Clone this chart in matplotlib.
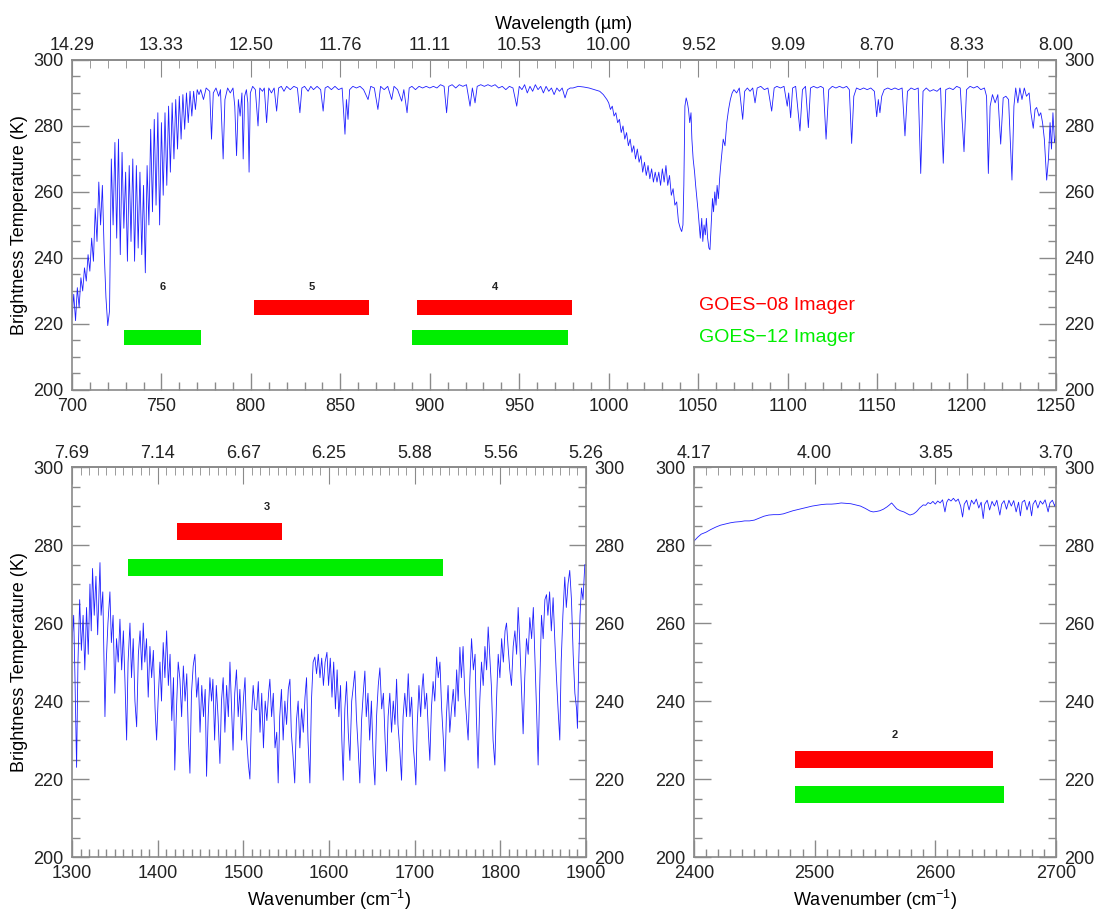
import matplotlib
matplotlib.use("Agg")
import matplotlib.pyplot as plt
from matplotlib.ticker import MultipleLocator, FuncFormatter, FixedLocator

plt.rcParams['font.family'] = ['Liberation Sans', 'DejaVu Sans']
plt.rcParams['mathtext.fontset'] = 'custom'
plt.rcParams['mathtext.rm'] = 'Liberation Sans'

# ---------------- data ----------------
WN_TOP = [700, 701, 702, 703, 704, 705, 706, 707, 708, 709, 710, 711, 712, 713, 714, 715, 716, 717, 718, 719,
          720, 721, 722, 723, 724, 725, 726, 727, 728, 729, 730, 731, 732, 733, 734, 735, 736, 737, 738, 739,
          740, 741, 742, 743, 744, 745, 746, 747, 748, 749, 750, 751, 752, 753, 754, 755, 756, 757, 758, 759,
          760, 761, 762, 763, 764, 765, 766, 767, 768, 769, 770,
          771, 772, 773.5, 775, 777, 778, 779, 780.5, 782, 783, 784.5, 785.5, 787, 788.5, 790, 791, 792, 793, 794, 795,
          795.7, 796.5, 797.5, 798.3, 799, 799.7, 801, 802.5, 804, 805, 806.5, 807.5, 808.8, 810, 811.5, 813, 814.4, 815.5,
          817, 818.5, 820, 822, 824, 826, 827.4, 828.5, 830, 832, 833.5, 835, 837, 839, 840.4, 841.5, 843, 845, 847, 849,
          851, 852.6, 853.4, 854.3, 855.2, 857, 859, 861, 863, 865.5, 867, 869, 871, 872.5, 874.5, 876.5, 878.7, 880, 882,
          884.3, 885.5, 887.3, 888.5, 890, 892, 894, 896, 898, 900, 902, 904, 906, 908, 909.4, 910.6, 912.5, 914.5, 916.5,
          918.5, 920.5, 922.5, 923.8, 925.3, 926.5, 928.5, 930.5, 932.5, 934.5, 936.5, 938.5, 940.5, 942.5, 944.5, 946.5,
          948.6, 950, 951.5, 953, 954.5, 956, 957.5, 959, 960.5, 962, 963.5, 965, 966.5, 968, 969.5, 971, 972.5, 974,
          975.6, 977, 978.5, 980, 983, 986, 989, 992, 995, 997, 999,
          1000, 1001, 1002, 1003, 1004, 1005, 1006, 1007, 1008, 1009, 1010, 1011, 1012, 1013, 1014, 1015, 1016, 1017,
          1018, 1019, 1020, 1021, 1022, 1023, 1024, 1025, 1026, 1027, 1028, 1029, 1030, 1031, 1032, 1033, 1034, 1035,
          1036, 1037, 1038, 1039, 1040, 1040.8, 1041.5, 1042, 1042.6, 1043.3, 1044, 1044.6, 1045.3, 1046, 1046.5, 1047.2,
          1048, 1048.6, 1049.3, 1050, 1050.6, 1051.2, 1052, 1052.6, 1053.3, 1054, 1054.6, 1055.3, 1056, 1056.6, 1057.3,
          1058, 1058.6, 1059.3, 1060, 1060.6, 1061.3, 1062, 1062.6, 1063.3, 1064, 1065, 1066, 1067, 1068, 1069, 1070,
          1071.5, 1073, 1074.9, 1076, 1077.5, 1079, 1080.5, 1081.8, 1083, 1085, 1087, 1089, 1091.1, 1092.5, 1094, 1096,
          1098, 1099.8, 1100.6, 1101.7, 1102.8, 1104.5, 1106.9, 1108.3, 1110, 1111.6, 1112.8, 1114.5, 1116.5, 1118.5,
          1120, 1121.5, 1123, 1125, 1127, 1129, 1131, 1133, 1134.5, 1135.8, 1137, 1138.5, 1140.5, 1142.5, 1144.5, 1146.5,
          1148.5, 1149.8, 1150.7, 1151.6, 1152.6, 1154, 1156, 1158, 1160, 1162, 1164, 1165.6, 1167, 1169, 1171, 1173,
          1174.4, 1175.7, 1177.5, 1179.5, 1181.5, 1183.5, 1185.5, 1187, 1188.4, 1190.5, 1192.5, 1194.5, 1196.5, 1198.6,
          1200, 1202, 1204, 1206, 1208, 1210, 1211.2, 1212.2, 1213.2, 1214.5, 1216, 1217.5, 1219.1, 1220.5, 1222, 1223.5,
          1225.4, 1226.5, 1227.5, 1228.7, 1229.8, 1231, 1232.3, 1233.5, 1235, 1236, 1237.3, 1238.3, 1239.2, 1240.5,
          1241.5, 1242.5, 1243.5, 1244.8, 1245.8, 1246.7, 1247.5, 1248.3, 1249.2, 1250]
BT_TOP = [222, 229, 221, 231, 225, 234, 230, 237, 233, 241, 236, 246, 239, 255, 245, 263, 250, 262, 242, 228,
          219.5, 224, 270, 250, 275, 246, 276, 241, 272, 249, 266, 239, 268, 245, 270, 239, 268, 243, 266, 241,
          262, 235.5, 268, 250, 279, 254, 282, 256, 284, 250, 281, 259, 284, 262, 286, 266, 287, 270, 288, 273,
          289, 276, 289.5, 279, 290, 281, 290.5, 283, 290.5, 285, 291,
          289.5, 291, 288, 291.5, 290.5, 276, 290, 291.5, 289, 291, 270, 288, 291.5, 290, 291.5, 286, 271, 288, 283, 290,
          270, 289, 291, 287, 266, 290, 292, 291, 280, 291.5, 290.5, 291.5, 281, 291.5, 290, 291.5, 284.5, 291.5,
          292, 290.5, 292, 291, 292, 291.5, 284, 291.5, 292, 290.5, 292, 291, 292, 291, 284.5, 291.5, 292, 291, 292, 291,
          291.5, 277.5, 288, 282, 291, 292, 291.5, 292, 291, 288, 292, 291.5, 285, 292, 291, 292, 288, 292, 291,
          287.5, 291, 284, 291.5, 292, 291, 292, 291.5, 292, 291.5, 292, 291.5, 292.5, 292, 284, 292, 292.5, 291.5, 292.5,
          292, 292.5, 286, 291.5, 287, 292, 292.5, 292, 292.5, 292, 292.5, 291.5, 292, 291, 292, 291.5,
          286, 292, 291, 292.5, 290, 292, 290.5, 292.5, 291, 292, 290, 292, 290.5, 291.5, 289.5, 291.5, 290.5, 291.5,
          288.5, 291, 291.5, 291.5, 292, 291.8, 291.5, 291, 290.5, 289.5, 288,
          287, 285, 286, 283, 284, 281, 282, 278, 280, 276, 278, 274, 276, 272, 274, 270, 273, 269,
          271, 266, 269, 265, 268, 264, 267, 263, 266, 263, 266, 262, 267, 263, 268, 262, 265, 259,
          261, 256, 257, 251, 249, 248, 250, 262, 286, 288.5, 287, 285, 281, 284, 276, 270,
          266, 262, 258, 254, 250, 246, 252, 245, 250, 247, 252, 246, 243, 242.5, 250,
          258, 254, 260, 256, 262, 258, 264, 268, 272, 276, 274, 281, 285, 288, 290, 291,
          290, 291.5, 282, 290.5, 291.5, 290.5, 291.5, 287, 291.5, 292, 291, 291.5, 284.5, 291.5, 292, 291.5,
          292, 286, 290, 282.5, 291.5, 292, 278.5, 291, 292, 279.5, 291.5, 292, 291.5, 292,
          291.5, 276, 291, 292, 291.5, 292, 291.5, 292, 291, 274.7, 289, 291.5, 291, 291.5, 291, 291.5,
          290.5, 282.8, 288, 284, 289, 291, 291.5, 291, 291.5, 291, 291.5, 277, 290.5, 291.5, 291, 291.5,
          265.6, 290.5, 291.5, 290.5, 291, 290.5, 291.5, 268.7, 291, 291.5, 291, 292, 291.5, 272.2,
          291, 292, 291.5, 292, 291, 291.5, 289, 265.6, 286, 289.5, 287, 289.5, 274.5, 288.5, 289, 288,
          263.6, 286, 291.5, 287, 291.5, 288, 291.5, 289, 290, 284, 279.3, 285, 285.6, 283,
          284, 281, 276, 263.6, 270, 281, 273, 284, 275, 277]

WN_MID = [1300, 1302, 1303.5, 1305.4, 1307, 1309, 1311, 1313, 1315, 1317, 1319, 1321, 1322.5, 1324, 1326, 1328, 1330,
          1332.7, 1334, 1336, 1338.5, 1340, 1342, 1344.3, 1346, 1348, 1350, 1352, 1354, 1356, 1358, 1360, 1362, 1363.8,
          1365.5, 1367.7, 1369.5, 1371.5, 1373.5, 1375.5, 1377.5, 1379.5, 1381.5, 1383.2, 1385, 1387, 1389, 1391, 1393,
          1395, 1397, 1398.8, 1400.5, 1402.7, 1404.5, 1406.5, 1408.5, 1410.5, 1412.5, 1414.5, 1416.5, 1418.5, 1420, 1422,
          1424, 1426, 1428, 1430, 1432, 1434, 1436, 1437.7, 1439.5, 1441.5, 1443.5, 1445.5, 1447.5, 1449.5, 1451.5,
          1453.5, 1455.5, 1457.1, 1459, 1461, 1463, 1464.5, 1466.5, 1468.5, 1470.5, 1472.7, 1474.5, 1476.5, 1478.5,
          1480.5, 1482.5, 1484.4, 1486, 1488, 1490, 1492, 1494, 1496, 1498, 1500, 1502, 1504, 1505.8, 1507.7, 1509.5,
          1511.5, 1513.5, 1515.5, 1517.5, 1519.5, 1521.5, 1523.5, 1525.5, 1527.5, 1529.5, 1531, 1533, 1535, 1537, 1539,
          1540.7, 1542.5, 1544.5, 1546.5, 1548.5, 1550.5, 1552.5, 1554.4, 1556, 1558, 1560, 1562, 1564, 1566, 1568,
          1570, 1572, 1573.8, 1575.5, 1577.7, 1579.5, 1581.5, 1583.5, 1585.5, 1587.5, 1589.5, 1591.5, 1593.5, 1595.5,
          1597.6, 1599.5, 1601.5, 1603.5, 1605.5, 1607.5, 1609.5, 1611.5, 1613.5, 1615, 1616.6, 1618.5, 1620.5, 1622.5,
          1624.4, 1626.5, 1628.5, 1630.2, 1632, 1634, 1636, 1638, 1640, 1641.9, 1643.5, 1645.5, 1647.5, 1649.5, 1651.5,
          1653.6, 1655.5, 1657.5, 1659.4, 1661.5, 1663.5, 1665.5, 1667.2, 1669, 1671, 1673, 1675, 1677, 1678.9, 1680.5,
          1682.5, 1684.7, 1686.5, 1688.5, 1690.5, 1692.5, 1694.5, 1696.5, 1698.5, 1700, 1701.4, 1703, 1705, 1707,
          1708.5, 1710, 1712, 1714, 1716, 1717.7, 1719.5, 1721.5, 1723.5, 1725.6, 1727.5, 1729.5, 1731.5, 1733.5,
          1735.3, 1737, 1739, 1741, 1743, 1745, 1747, 1749, 1750.8, 1752.8, 1754.5, 1756.5, 1758.5, 1760.5, 1762.4,
          1764.5, 1766.4, 1768.5, 1770.5, 1772, 1774, 1776, 1778, 1780, 1782, 1784, 1785.8, 1787.5, 1789.5, 1791.5,
          1793.6, 1795.5, 1797.5, 1799.5, 1801.5, 1803.5, 1805.5, 1807.2, 1809, 1811, 1813, 1815, 1817, 1819, 1820.8,
          1822.5, 1824.5, 1826.6, 1828.5, 1830.5, 1832.5, 1834.4, 1836.5, 1838.5, 1840.5, 1842.5, 1844.1, 1846, 1848,
          1850, 1852, 1853.9, 1855.5, 1857.5, 1859.5, 1861.6, 1863.5, 1865.5, 1867.5, 1869.4, 1871, 1873, 1875.2, 1877,
          1879, 1881, 1883, 1885, 1887, 1889, 1890, 1891.5, 1893, 1894.7, 1896.5, 1898.6, 1900]
BT_MID = [255, 262, 246, 223, 250, 266, 253, 262, 248, 264, 252, 270, 258, 274, 262, 272, 257,
          275.5, 262, 268, 236, 250, 260, 268, 255, 262, 242, 256, 250, 261, 248, 258, 244, 230,
          250, 260, 246, 256, 240, 233.4, 252, 258, 248, 260, 250, 256, 241, 254, 246,
          253, 238, 230, 240, 250, 240, 255, 246, 258, 244, 252, 235, 246, 222.3, 238,
          250, 245.6, 236, 249, 240, 247, 230, 221.5, 242, 249, 252, 241, 246, 232, 244,
          236, 243, 220.7, 236, 246, 240, 245.6, 230, 244, 236, 224, 240, 246, 232,
          244, 236, 250, 240, 227.4, 242, 248, 236, 243, 230, 240, 246, 230, 224, 220, 236,
          244, 238, 237.7, 245, 232, 242, 228, 240, 235, 242, 245.6, 236, 242, 228, 232,
          219, 236, 243, 230, 240, 234, 243, 245.6, 232, 226, 219, 235, 240, 228, 238,
          232, 241, 246, 230, 219, 240, 250, 251.3, 247, 252, 246, 251, 244, 250,
          252.5, 244, 251, 241, 250, 238, 248, 236, 244, 230, 219.7, 238, 245, 232,
          224.8, 240, 244, 247.7, 236, 228, 219, 235, 242, 247.7, 236, 242, 230, 240, 226,
          218.5, 236, 244, 248.5, 238, 242, 230, 222, 236, 242, 232, 240, 234, 245.6, 234,
          228, 219.7, 236, 242, 236, 247, 236, 241, 228, 224, 218.5, 234, 244, 236,
          243, 247, 238, 242, 232, 224.8, 238, 245, 240, 251.3, 246, 250, 238, 230,
          222, 236, 244, 232, 238, 243, 236, 248, 240, 253.8, 246, 254, 242, 236, 230,
          246, 256, 248, 252, 236, 222.8, 240, 250, 244, 254, 248, 259, 252, 244, 230,
          223.6, 240, 252, 246, 256, 250, 258, 260, 254, 248, 244, 254, 258, 252, 264,
          256, 244, 231.6, 246, 256, 252, 261.4, 256, 264, 250, 236, 223.6, 244, 262,
          256, 266, 267.3, 262, 268, 258, 266.5, 256, 246, 237.4, 230, 250, 262, 271.8, 264,
          270, 273.5, 266, 252, 242, 238, 233, 250, 262, 269, 266, 275, 275]

WN_SW = [2400, 2403, 2406, 2410, 2414, 2418, 2422, 2426, 2430, 2434, 2438, 2442, 2446, 2450, 2454, 2458, 2462, 2466,
         2470, 2474, 2478, 2482, 2486, 2490, 2494, 2498, 2502, 2506, 2510, 2514, 2518, 2522, 2526, 2530, 2534, 2538,
         2542, 2546, 2548.5, 2551, 2554, 2557, 2560, 2562, 2563.8, 2565.5, 2568, 2571, 2574, 2577, 2579, 2582, 2584.5,
         2587, 2590, 2592, 2594, 2596, 2598, 2600, 2602, 2604, 2606, 2608, 2609.5, 2611, 2613, 2615, 2617, 2619, 2621,
         2622.6, 2624, 2626, 2628, 2630, 2632, 2634, 2636, 2638, 2639.7, 2641, 2643, 2645, 2647, 2649, 2651, 2653.5,
         2655, 2657, 2659, 2661, 2663, 2665, 2667, 2669, 2670.5, 2672, 2674, 2676, 2678, 2679.8, 2681, 2683, 2685,
         2687, 2689, 2691, 2693.5, 2695, 2697, 2699, 2700]
BT_SW = [281, 282, 282.8, 283.3, 284, 284.6, 285.1, 285.4, 285.7, 285.9, 286, 286.2, 286.2, 286.4, 286.9, 287.4, 287.7,
         287.8, 287.8, 288, 288.4, 288.8, 289.1, 289.4, 289.7, 290, 290.2, 290.4, 290.5, 290.5, 290.6, 290.8, 290.7,
         290.6, 290.3, 290, 289.4, 288.7, 288.5, 288.6, 288.8, 289.2, 289.8, 290.3, 290.8, 290.2, 289.3, 288.8, 288.5,
         288, 287.7, 288, 288.6, 289.5, 290.3, 290.2, 290.9, 290.6, 291.2, 290.5, 291.3, 290.8, 291.6, 288.5, 291,
         291.8, 291.3, 292, 291.2, 291.8, 290, 287.2, 290.5, 291.5, 289, 291.5, 290.5, 291.8, 289.5, 291, 286.8,
         290.5, 291.5, 289, 291.2, 290, 291.5, 287.7, 290.5, 291.4, 289.2, 291.5, 290, 291.4, 288.5, 291, 287.5,
         291, 291.5, 289, 291.2, 287.5, 290.5, 291.5, 289.5, 291.3, 290.5, 291.6, 288.5, 290.8, 291.5, 290, 291.2]

# channel bands (wavenumber start / end), label, and panel
CH_NAMES = ['6', '5', '4', '3', '2']
CH_PANEL = [0, 0, 0, 1, 2]
G08_START = [None, 802, 893, 1422.5, 2484]
G08_END = [None, 866, 979.5, 1545, 2648]
G12_START = [729, None, 890, 1365, 2484]
G12_END = [772, None, 977, 1733, 2657]
BAR_RED_Y = [225, 283.5, 225]   # per panel
BAR_GREEN_Y = [216, 274.3, 216]

LEGEND = ['GOES\u221208 Imager', 'GOES\u221212 Imager']

# ---------------- figure ----------------
fig = plt.figure(figsize=(10.97, 9.18), dpi=100)
ax0 = fig.add_axes([0.0656, 0.5752, 0.897, 0.3595])
ax1 = fig.add_axes([0.0656, 0.0664, 0.4686, 0.4248])
ax2 = fig.add_axes([0.6326, 0.0664, 0.3300, 0.4248])
axes = [ax0, ax1, ax2]

LINE = '#1f1fff'
GRAY = '#8a8a8a'
RED = '#ff0000'
GREEN = '#00ee00'

ax0.plot(WN_TOP, BT_TOP, color=LINE, lw=0.6)
ax1.plot(WN_MID, BT_MID, color=LINE, lw=0.6)
ax2.plot(WN_SW, BT_SW, color=LINE, lw=0.6)

xlims = [(700, 1250), (1300, 1900), (2400, 2700)]
xmaj = [50, 100, 100]

for i, ax in enumerate(axes):
    ax.set_xlim(*xlims[i])
    ax.set_ylim(200, 300)
    ax.xaxis.set_major_locator(MultipleLocator(xmaj[i]))
    ax.xaxis.set_minor_locator(MultipleLocator(10))
    ax.yaxis.set_major_locator(MultipleLocator(20))
    ax.yaxis.set_minor_locator(MultipleLocator(5))
    ax.tick_params(which='both', direction='in', color=GRAY, top=False, right=True,
                   labelright=True, labelsize=13, labelcolor='#222222', width=1.0)
    ax.tick_params(which='major', length=12, pad=6)
    ax.tick_params(which='minor', length=6)
    for s in ax.spines.values():
        s.set_color(GRAY)
        s.set_linewidth(1.2)
    sec = ax.secondary_xaxis('top')
    sec.xaxis.set_major_locator(MultipleLocator(xmaj[i]))
    sec.xaxis.set_minor_locator(MultipleLocator(10))
    sec.xaxis.set_major_formatter(FuncFormatter(lambda v, p: '%.2f' % (10000.0 / v)))
    sec.tick_params(which='both', direction='in', color=GRAY, labelsize=13, labelcolor='#222222')
    sec.tick_params(which='major', length=12, pad=4)
    sec.tick_params(which='minor', length=6)
    sec.spines['top'].set_color(GRAY)
    sec.spines['top'].set_linewidth(1.2)
    if i == 0:
        sec.set_xlabel('Wavelength (\u00b5m)', fontsize=13, labelpad=6)

ax0.set_ylabel('Brightness Temperature (K)', fontsize=13, labelpad=4)
ax1.set_ylabel('Brightness Temperature (K)', fontsize=13, labelpad=4)
ax1.set_xlabel('Wavenumber (cm$^{-1}$)', fontsize=13, labelpad=4)
ax2.set_xlabel('Wavenumber (cm$^{-1}$)', fontsize=13, labelpad=4)

BAR_H = 4.5
for k, name in enumerate(CH_NAMES):
    p = CH_PANEL[k]
    ax = axes[p]
    mids = []
    if G08_START[k] is not None:
        ax.barh(BAR_RED_Y[p], G08_END[k] - G08_START[k], left=G08_START[k], height=BAR_H,
                color=RED, zorder=3)
        mids.append((G08_START[k] + G08_END[k]) / 2)
        label_y = BAR_RED_Y[p] + 6.3
    if G12_START[k] is not None:
        ax.barh(BAR_GREEN_Y[p], G12_END[k] - G12_START[k], left=G12_START[k], height=BAR_H,
                color=GREEN, zorder=3)
        mids.append((G12_START[k] + G12_END[k]) / 2)
    if G08_START[k] is None:
        label_y = BAR_RED_Y[p] + 6.3
    xm = mids[0] if name != '3' else 1528
    ax.text(xm, label_y, name, fontsize=8, fontweight='bold', color='#222222',
            ha='center', va='center')

ax0.text(1050.5, BAR_RED_Y[0] + 0.5, LEGEND[0], color=RED, fontsize=14, va='center', ha='left')
ax0.text(1050.5, BAR_GREEN_Y[0], LEGEND[1], color=GREEN, fontsize=14, va='center', ha='left')

fig.savefig('out.png', dpi=100)
